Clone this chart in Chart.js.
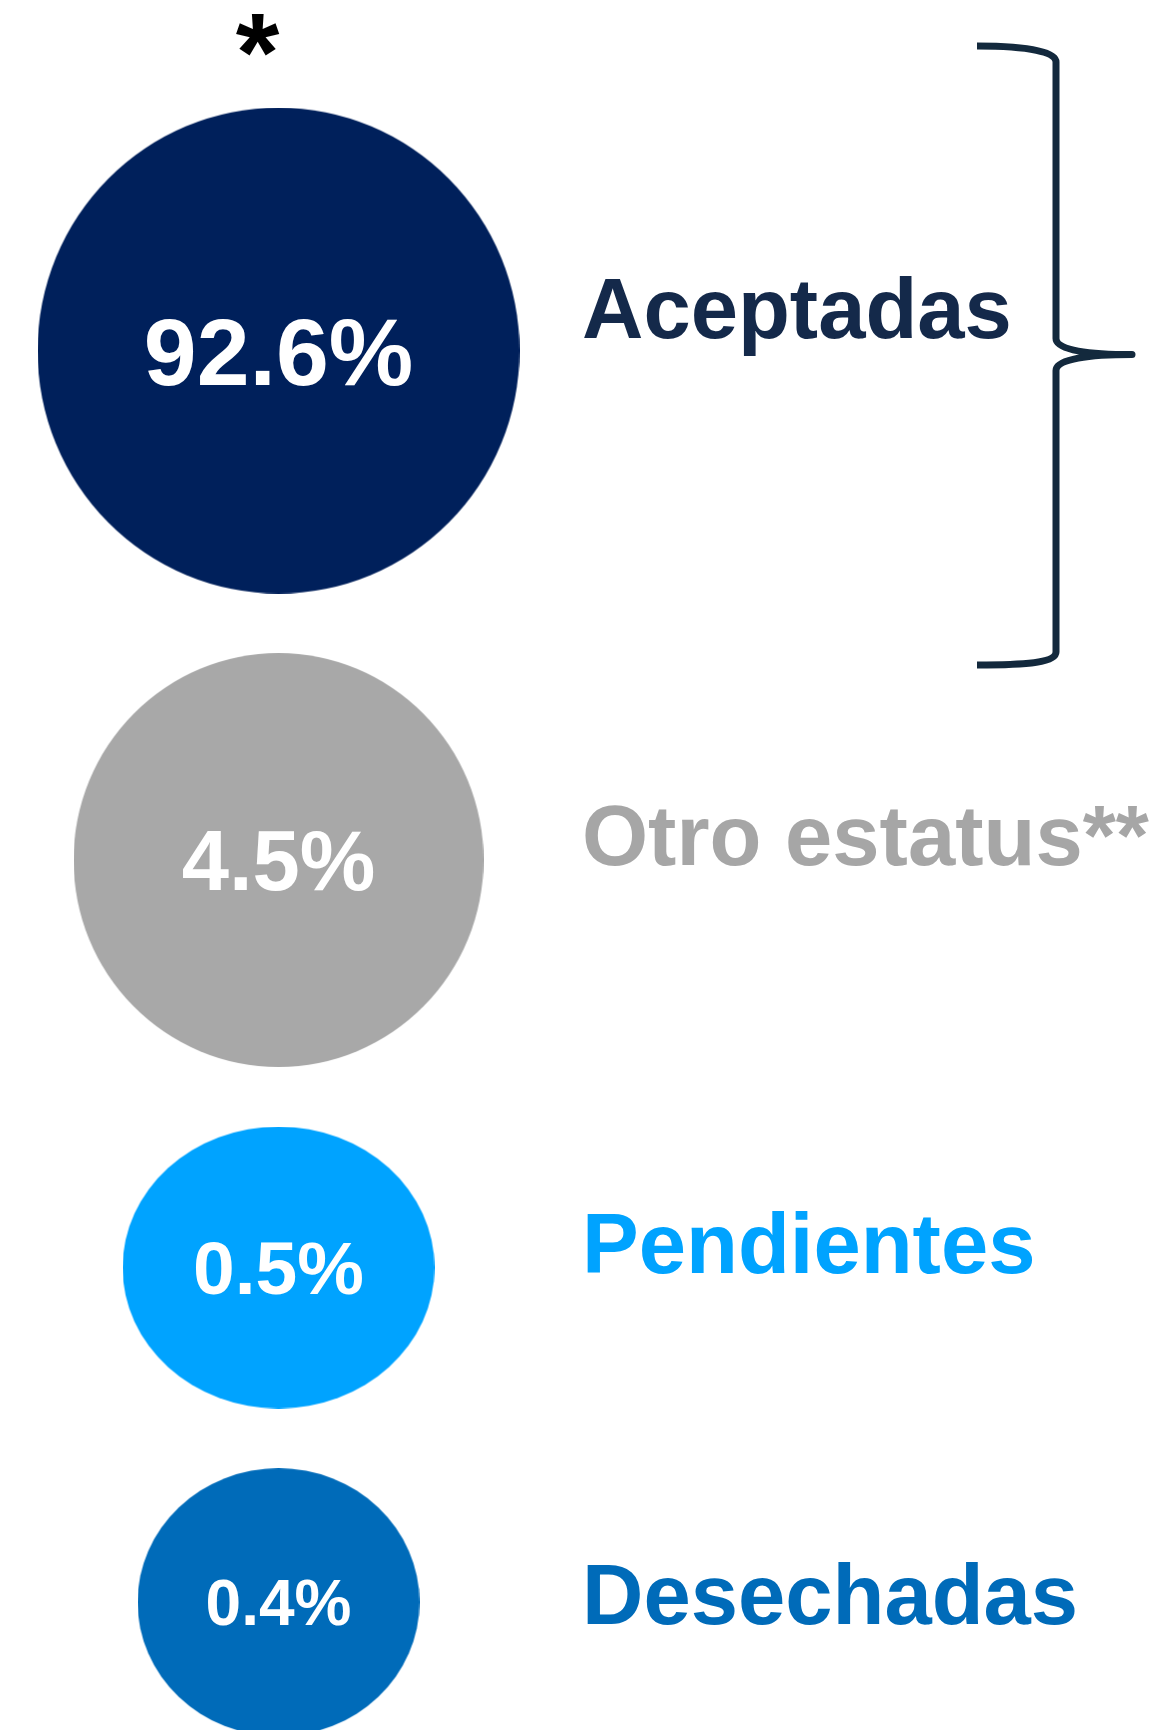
<!DOCTYPE html>
<html>
<head>
<meta charset="utf-8">
<script src="https://cdn.jsdelivr.net/npm/chart.js@4.4.1/dist/chart.umd.min.js"></script>
<style>
  html, body { margin: 0; padding: 0; background: #ffffff; }
  #statusChart { display: block; }
</style>
</head>
<body>
<canvas id="statusChart" width="1158" height="1731"></canvas>
<script>
// Status breakdown
const categories = ['Aceptadas', 'Otro estatus**', 'Pendientes', 'Desechadas'];
const shares = [92.6, 4.5, 0.5, 0.4];

// Look of each bubble / label
const bubbleColors = ['#00205b', '#a8a8a8', '#00a3ff', '#006bb9'];
const labelColors = ['#14294a', '#a6a6a6', '#00a3ff', '#006bb9'];
const bubbleSizes = [[241, 243], [205, 207], [156, 141], [141, 134]]; // half width, half height
const valueFontSizes = [95, 85, 75, 64];
const labelBaselineShift = [-13, 5, 5, 22];

const W = 1158, H = 1731;
const FONT = '"Liberation Sans", Arial, Helvetica, sans-serif';
const COLUMN_X = 278;
const TOP = 107, GAP = 60;
const LABEL_X = 582;
const LABEL_SIZE = 85;

// stack the bubbles top to bottom with an even gap between them
function stackRows() {
    const rows = [];
    let edge = TOP;
    bubbleSizes.forEach(([, ry]) => {
        rows.push(edge + ry);
        edge += ry * 2 + GAP;
    });
    return rows;
}

function ellipseImage([rx, ry], color) {
    const c = document.createElement('canvas');
    c.width = rx * 2;
    c.height = ry * 2;
    const g = c.getContext('2d');
    g.fillStyle = color;
    g.beginPath();
    g.ellipse(rx, ry, rx, ry, 0, 0, Math.PI * 2);
    g.fill();
    return c;
}

const rows = stackRows();
const points = shares.map((v, i) => ({x: COLUMN_X, y: rows[i], share: v}));
const bubbleImages = bubbleSizes.map((s, i) => ellipseImage(s, bubbleColors[i]));

const labelPlugin = {
    id: 'statusLabels',
    afterDatasetsDraw(chart) {
        const ctx = chart.ctx;
        const els = chart.getDatasetMeta(0).data;
        ctx.save();
        els.forEach((el, i) => {
            // value inside the bubble
            const fs = valueFontSizes[i];
            ctx.font = `bold ${fs}px ${FONT}`;
            ctx.fillStyle = '#ffffff';
            ctx.textAlign = 'center';
            ctx.textBaseline = 'alphabetic';
            ctx.fillText(points[i].share.toFixed(1) + '%', el.x, el.y + fs * 0.358);

            // category name to the right
            ctx.font = `bold ${LABEL_SIZE}px ${FONT}`;
            ctx.fillStyle = labelColors[i];
            ctx.textAlign = 'left';
            ctx.fillText(categories[i], LABEL_X, el.y + labelBaselineShift[i]);
        });

        // asterisk above the first bubble
        ctx.font = `bold 112px ${FONT}`;
        ctx.fillStyle = '#000000';
        ctx.textAlign = 'center';
        ctx.fillText('*', els[0].x - 21, 91);

        // curly brace next to the first label
        const mid = els[0].y + 4;
        const top = 46, bottom = 665, bx = 1056, tipX = 1132, armX = 977;
        ctx.strokeStyle = '#13293d';
        ctx.lineWidth = 7;
        ctx.lineJoin = 'round';
        ctx.lineCap = 'butt';
        ctx.beginPath();
        ctx.moveTo(armX, top);
        ctx.bezierCurveTo(1030, top, bx, top + 6, bx, top + 16);
        ctx.lineTo(bx, mid - 16);
        ctx.bezierCurveTo(bx, mid - 4, 1090, mid, tipX, mid);
        ctx.bezierCurveTo(1090, mid, bx, mid + 4, bx, mid + 16);
        ctx.lineTo(bx, bottom - 13);
        ctx.bezierCurveTo(bx, bottom - 3, 1030, bottom, armX, bottom);
        ctx.stroke();
        ctx.restore();
    }
};

new Chart(document.getElementById('statusChart'), {
    type: 'scatter',
    data: {
        datasets: [{
            data: points,
            pointStyle: (c) => bubbleImages[c.dataIndex],
            pointRadius: 1,
            pointHoverRadius: 1,
            borderWidth: 0
        }]
    },
    options: {
        responsive: false,
        animation: false,
        events: [],
        layout: {padding: 0},
        plugins: {
            legend: {display: false},
            tooltip: {enabled: false}
        },
        scales: {
            x: {type: 'linear', display: false, min: 0, max: W},
            y: {type: 'linear', display: false, min: 0, max: H, reverse: true}
        }
    },
    plugins: [labelPlugin]
});
</script>
</body>
</html>
